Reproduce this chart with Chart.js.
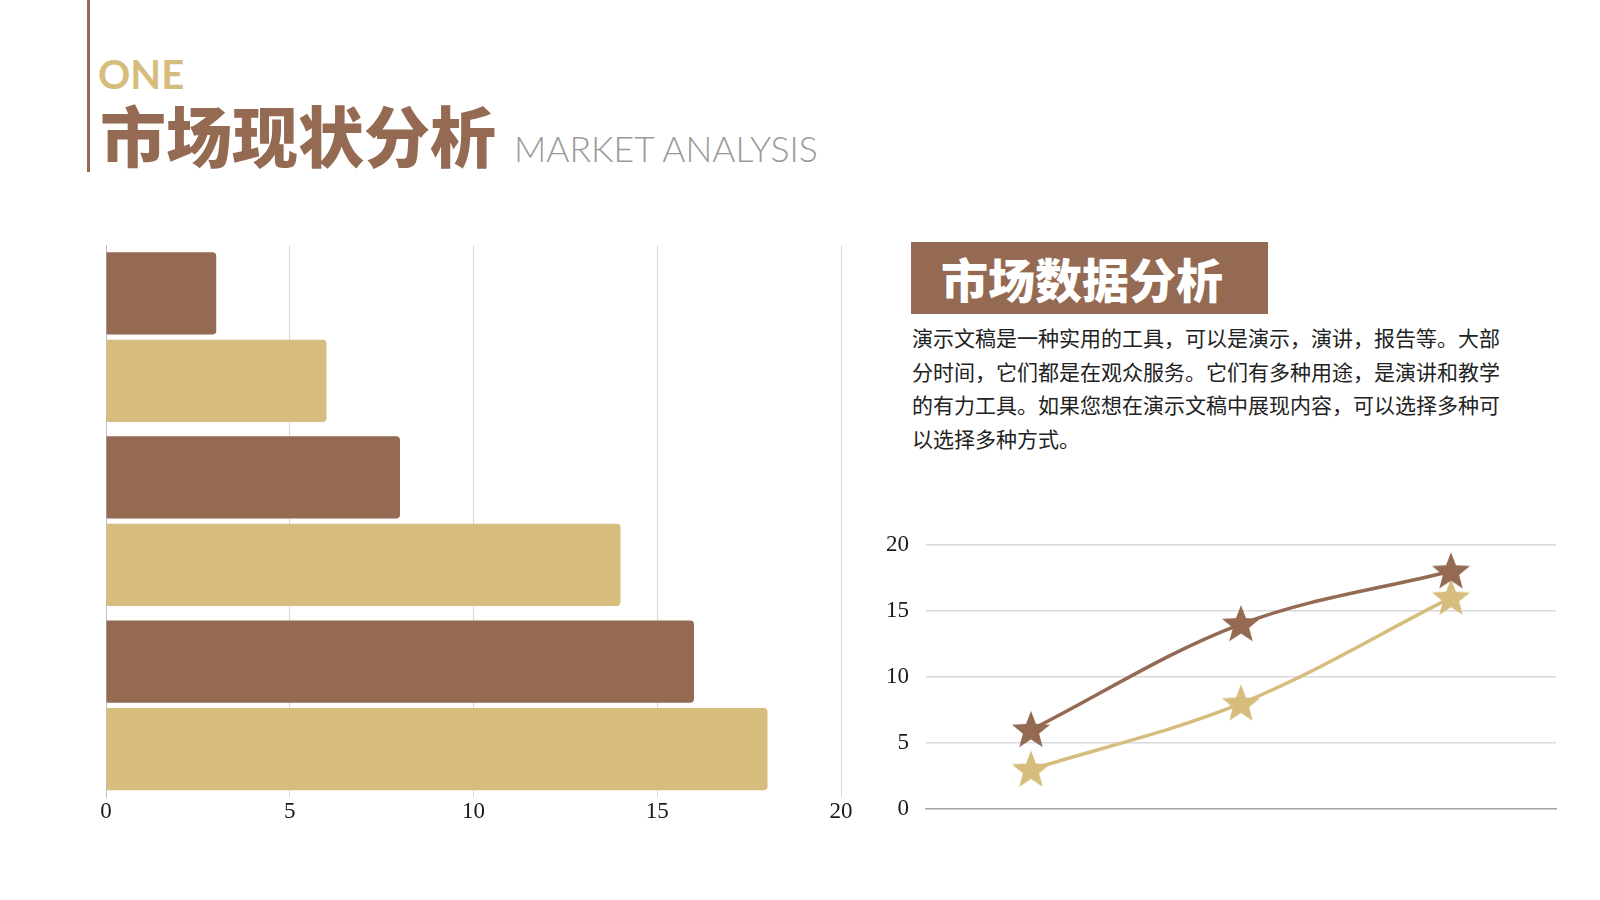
<!DOCTYPE html>
<html>
<head>
<meta charset="utf-8">
<script src="https://cdn.jsdelivr.net/npm/chart.js@4.4.0/dist/chart.umd.min.js"></script>
<style>
  html, body { margin: 0; padding: 0; background: #fff; }
  body { width: 1600px; height: 900px; position: relative; overflow: hidden; font-family: "Noto Sans CJK SC", "Noto Sans", sans-serif; }
  .abs { position: absolute; }
  #bar-side { left: 87px; top: 0; width: 3px; height: 172px; background: #946B52; }
  #one { left: 98px; top: 52px; font: 700 40px/44px Lato, sans-serif; color: #D6BD7D; }
  #title { left: 100px; top: 98px; font: 900 66px/70px "Noto Sans CJK SC", sans-serif; color: #946B52; white-space: nowrap; }
  #title-en { left: 514px; top: 128px; font: 300 35.5px/42px Lato, sans-serif; color: #9a9a9a; white-space: nowrap; }
  #box { left: 911px; top: 242px; width: 357px; height: 72px; background: #946B52; }
  #box span { position: absolute; left: 30px; top: 10px; font: 900 47px/51px "Noto Sans CJK SC", sans-serif; color: #fff; white-space: nowrap; }
  #para { left: 912px; top: 321px; font: 400 21px/33.7px "Noto Sans CJK SC", sans-serif; color: #222; white-space: nowrap; }
  #barWrap { left: 84px; top: 224px; width: 800px; height: 603px; }
  #lineWrap { left: 869px; top: 514px; width: 712px; height: 326px; }
</style>
</head>
<body>
<div class="abs" id="bar-side"></div>
<div class="abs" id="one">ONE</div>
<div class="abs" id="title">市场现状分析</div>
<div class="abs" id="title-en">MARKET ANALYSIS</div>
<div class="abs" id="box"><span>市场数据分析</span></div>
<div class="abs" id="para">演示文稿是一种实用的工具，可以是演示，演讲，报告等。大部<br>分时间，它们都是在观众服务。它们有多种用途，是演讲和教学<br>的有力工具。如果您想在演示文稿中展现内容，可以选择多种可<br>以选择多种方式。</div>
<div class="abs" id="barWrap"><canvas id="barChart"></canvas></div>
<div class="abs" id="lineWrap"><canvas id="lineChart"></canvas></div>

<script>
// data
const barCategories = ["类别1", "类别2", "类别3"];
const barSeriesA = [3, 8, 16];
const barSeriesB = [6, 14, 18];
const barTicks = [0, 5, 10, 15, 20];

const lineCategories = ["类别1", "类别2", "类别3"];
const lineSeriesA = [6, 14, 18];
const lineSeriesB = [3, 8, 16];

const BROWN = "#946B52";
const GOLD = "#D6BD7D";
const tickFont = { family: "'Liberation Serif', 'DejaVu Serif', serif", size: 23 };

// filled five-point star used as point marker
function makeStar(color) {
  const c = document.createElement("canvas");
  c.width = 44; c.height = 44;
  const g = c.getContext("2d");
  const R = 20, r = 8.5, cx = 22, cy = 23;
  g.beginPath();
  for (let i = 0; i < 10; i++) {
    const rad = i % 2 === 0 ? R : r;
    const a = -Math.PI / 2 + i * Math.PI / 5;
    g.lineTo(cx + rad * Math.cos(a), cy + rad * Math.sin(a));
  }
  g.closePath();
  g.fillStyle = color;
  g.fill();
  return c;
}

new Chart(document.getElementById("barChart"), {
  type: "bar",
  data: {
    labels: barCategories,
    datasets: [
      { data: barSeriesA, backgroundColor: BROWN, borderRadius: 4, borderSkipped: "start" },
      { data: barSeriesB, backgroundColor: GOLD, borderRadius: 4, borderSkipped: "start" }
    ]
  },
  options: {
    indexAxis: "y",
    responsive: true,
    maintainAspectRatio: false,
    animation: false,
    categoryPercentage: 0.95,
    barPercentage: 0.94,
    layout: { padding: { left: 22, right: 43, top: 21, bottom: 0 } },
    plugins: { legend: { display: false }, tooltip: { enabled: false } },
    scales: {
      x: {
        min: 0, max: 20,
        afterBuildTicks: s => { s.ticks = barTicks.map(v => ({ value: v })); },
        ticks: { font: tickFont, color: "#1a1a1a", padding: 1 },
        grid: { color: "#d9d9d9", lineWidth: 1, drawTicks: false },
        border: { display: false }
      },
      y: {
        ticks: { display: false },
        grid: { display: false, drawTicks: false },
        border: { display: true, color: "#bfbfbf", width: 1 }
      }
    }
  }
});

new Chart(document.getElementById("lineChart"), {
  type: "line",
  data: {
    labels: lineCategories,
    datasets: [
      { data: lineSeriesA, borderColor: BROWN, borderWidth: 3.5, tension: 0.35, pointStyle: makeStar(BROWN), pointRadius: 20 },
      { data: lineSeriesB, borderColor: GOLD, borderWidth: 3.5, tension: 0.35, pointStyle: makeStar(GOLD), pointRadius: 20 }
    ]
  },
  options: {
    responsive: true,
    maintainAspectRatio: false,
    animation: false,
    layout: { padding: { left: 0, right: 25, top: 24, bottom: 28 } },
    plugins: { legend: { display: false }, tooltip: { enabled: false } },
    scales: {
      x: {
        offset: true,
        ticks: { display: false },
        grid: { display: false, drawTicks: false },
        border: { display: true, color: "#a6a6a6", width: 1.5 }
      },
      y: {
        min: 0, max: 20,
        ticks: { stepSize: 5, font: tickFont, color: "#1a1a1a", padding: 17 },
        grid: { color: "#d9d9d9", lineWidth: 1.5, drawTicks: false },
        border: { display: false },
        afterFit: s => { s.width = 57; }
      }
    }
  }
});
</script>
</body>
</html>
